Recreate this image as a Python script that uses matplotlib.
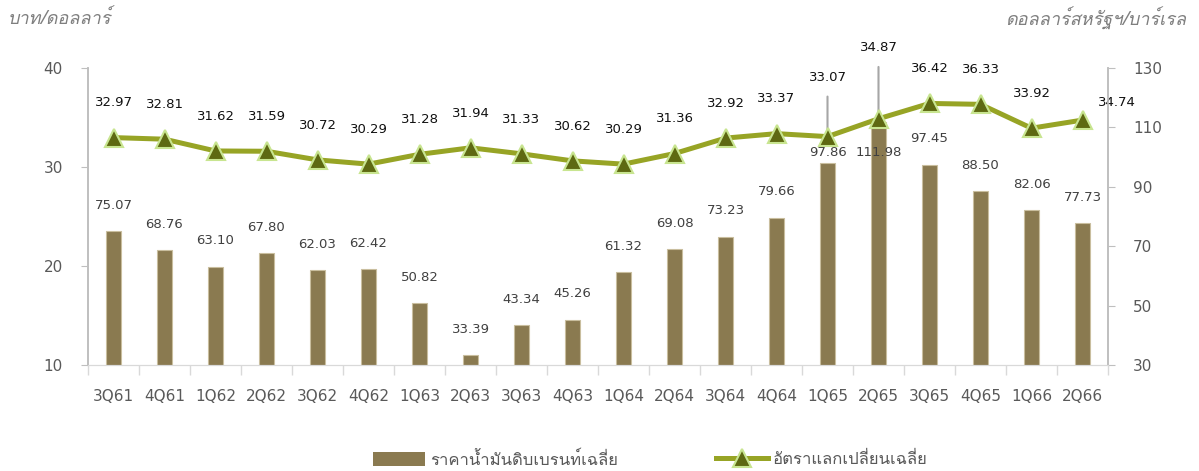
import matplotlib
matplotlib.use("Agg")
import matplotlib.pyplot as plt
from matplotlib import font_manager
from matplotlib.ft2font import FT2Font
from matplotlib.patches import Patch
from matplotlib.lines import Line2D

# ------------------ DATA ------------------

quarters = ["3Q61", "4Q61", "1Q62", "2Q62", "3Q62", "4Q62", "1Q63", "2Q63", "3Q63", "4Q63",
            "1Q64", "2Q64", "3Q64", "4Q64", "1Q65", "2Q65", "3Q65", "4Q65", "1Q66", "2Q66"]
brent_price = [75.07, 68.76, 63.10, 67.80, 62.03, 62.42, 50.82, 33.39, 43.34, 45.26,
               61.32, 69.08, 73.23, 79.66, 97.86, 111.98, 97.45, 88.50, 82.06, 77.73]
fx_rate = [32.97, 32.81, 31.62, 31.59, 30.72, 30.29, 31.28, 31.94, 31.33, 30.62,
           30.29, 31.36, 32.92, 33.37, 33.07, 34.87, 36.42, 36.33, 33.92, 34.74]

left_label = "บาท/ดอลลาร์"
right_label = "ดอลลาร์สหรัฐฯ/บาร์เรล"
bar_legend = "ราคาน้ำมันดิบเบรนท์เฉลี่ย"
line_legend = "อัตราแลกเปลี่ยนเฉลี่ย"

# ------------------ STYLE ------------------

BAR_COLOR = "#8A7A50"
BAR_EDGE = "#C9BE9E"
LINE_COLOR = "#97A425"
MARK_FILL = "#5E6912"
MARK_EDGE = "#C8E590"
AXIS_GRAY = "#BFBFBF"
TEXT_GRAY = "#595959"


def find_thai_font():
    for f in font_manager.fontManager.ttflist:
        try:
            if FT2Font(f.fname).get_char_index(0x0E01):
                return f.name
        except Exception:
            pass
    return None


thai = find_thai_font()
thai_family = [thai, "DejaVu Sans"] if thai else ["DejaVu Sans"]

plt.rcParams["font.family"] = ["DejaVu Sans"]

fig = plt.figure(figsize=(11.99, 4.71), dpi=100)
ax = fig.add_axes([88 / 1199, 1 - 365 / 471, 1020 / 1199, 297 / 471])
ax2 = ax.twinx()

# line axis above bar axis
ax.set_zorder(ax2.get_zorder() + 1)
ax.patch.set_visible(False)
ax2.patch.set_facecolor("#F2F2F2")

x = list(range(len(quarters)))

# ------------------ BARS (right axis) ------------------

ax2.bar(x, brent_price, width=0.31, color=BAR_COLOR, edgecolor=BAR_EDGE, linewidth=0.8)
ax2.set_ylim(30, 130)
ax2.set_yticks([30, 50, 70, 90, 110, 130])

bar_offsets = {14: 8, 15: -22}
for i, v in enumerate(brent_price):
    ax2.annotate(f"{v:.2f}", (i, v), xytext=(0, bar_offsets.get(i, 18.5)),
                 textcoords="offset points", ha="center", va="center",
                 fontsize=9.5, color="#404040")

# ------------------ LINE (left axis) ------------------

ax.plot(x, fx_rate, color=LINE_COLOR, linewidth=3.6, marker="^", markersize=12.5,
        markerfacecolor=MARK_FILL, markeredgecolor=MARK_EDGE, markeredgewidth=1.5,
        zorder=3)
ax.set_ylim(10, 40)
ax.set_yticks([10, 20, 30, 40])

line_offsets = {14: (0, 42.5), 15: (0, 51), 19: (25, 13)}
for i, v in enumerate(fx_rate):
    off = line_offsets.get(i, (0, 25))
    arrow = None
    if i in (14, 15):
        arrow = dict(arrowstyle="-", color="#A6A6A6", linewidth=1.5, shrinkA=7, shrinkB=0)
    ax.annotate(f"{v:.2f}", (i, v), xytext=off, textcoords="offset points",
                ha="center", va="center", fontsize=9.5, color="#111111",
                arrowprops=arrow, annotation_clip=False, zorder=2)

# ------------------ AXES LOOK ------------------

ax.set_xlim(-0.5, len(quarters) - 0.5)
ax.set_xticks(x)
ax.set_xticklabels(quarters)
ax.set_xticks([i - 0.5 for i in range(len(quarters) + 1)], minor=True)
ax.tick_params(axis="x", which="major", length=0, pad=17, labelsize=11, labelcolor=TEXT_GRAY)
ax.tick_params(axis="x", which="minor", length=7, color="#D9D9D9", width=1)
ax.tick_params(axis="y", length=5, pad=13, labelsize=11, labelcolor=TEXT_GRAY, color=AXIS_GRAY)
ax2.tick_params(axis="y", length=5, pad=13, labelsize=11, labelcolor=TEXT_GRAY, color=AXIS_GRAY)

for a in (ax, ax2):
    a.spines["top"].set_visible(False)
    a.spines["left"].set_color(AXIS_GRAY)
    a.spines["right"].set_color(AXIS_GRAY)
    a.spines["bottom"].set_color("#D9D9D9")
    a.spines["left"].set_linewidth(1.2)
    a.spines["right"].set_linewidth(1.2)

# ------------------ UNIT LABELS ------------------

fig.text(8 / 1199, 1 - 19 / 471, left_label, ha="left", va="center", fontsize=13,
         style="italic", color="#7F7F7F", family=thai_family)
fig.text(1186 / 1199, 1 - 19 / 471, right_label, ha="right", va="center", fontsize=13,
         style="italic", color="#7F7F7F", family=thai_family)

# ------------------ LEGEND ------------------

bar_handle = Patch(facecolor=BAR_COLOR, edgecolor="none")
line_handle = Line2D([], [], color=LINE_COLOR, linewidth=3.6, marker="^", markersize=12.5,
                     markerfacecolor=MARK_FILL, markeredgecolor=MARK_EDGE, markeredgewidth=1.5)

leg_kw = dict(loc="center left", frameon=False, borderpad=0, borderaxespad=0,
              handlelength=3.1, handleheight=0.9, handletextpad=0.3,
              prop={"family": thai_family, "size": 12}, labelcolor=TEXT_GRAY)
leg1 = fig.legend([bar_handle], [bar_legend], bbox_to_anchor=(373 / 1199, 1 - 460 / 471), **leg_kw)
leg2 = fig.legend([line_handle], [line_legend], bbox_to_anchor=(716 / 1199, 1 - 460 / 471), **leg_kw)

fig.savefig("out.png", dpi=100)
plt.close()
